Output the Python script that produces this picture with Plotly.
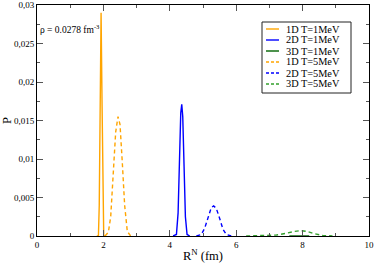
import plotly.graph_objects as go

# ---- data ----
x_1d_1 = [1.80, 1.85, 1.875, 1.90, 1.93, 1.96, 1.985, 2.01, 2.06]
y_1d_1 = [0.0, 0.0, 0.004, 0.017, 0.0290, 0.017, 0.004, 0.0, 0.0]

x_2d_1 = [4.10, 4.20, 4.25, 4.29, 4.33, 4.36, 4.39, 4.43, 4.47, 4.52, 4.60]
y_2d_1 = [0.0, 0.0002, 0.003, 0.010, 0.0160, 0.0171, 0.0155, 0.009, 0.0025, 0.0002, 0.0]

x_3d_1 = [7.60, 7.75, 7.85, 7.95, 8.05, 8.20]
y_3d_1 = [0.0, 0.00002, 0.00005, 0.00006, 0.00003, 0.0]

x_1d_5 = [2.05, 2.15, 2.22, 2.30, 2.37, 2.44, 2.50, 2.57, 2.64, 2.72, 2.82]
y_1d_5 = [0.0, 0.0005, 0.0025, 0.0085, 0.0135, 0.0155, 0.0145, 0.0095, 0.0040, 0.0006, 0.0]

x_2d_5 = [4.80, 4.95, 5.05, 5.15, 5.25, 5.32, 5.40, 5.50, 5.60, 5.70, 5.85]
y_2d_5 = [0.0, 0.0002, 0.0010, 0.0025, 0.0037, 0.0039, 0.0036, 0.0023, 0.0009, 0.0002, 0.0]

x_3d_5 = [6.30, 6.80, 7.20, 7.50, 7.75, 7.95, 8.15, 8.35, 8.60, 8.90]
y_3d_5 = [0.0, 0.00003, 0.00012, 0.00035, 0.00060, 0.00070, 0.00058, 0.00030, 0.00008, 0.0]

series_names = ["1D T=1MeV", "2D T=1MeV", "3D T=1MeV", "1D T=5MeV", "2D T=5MeV", "3D T=5MeV"]
series_x = [x_1d_1, x_2d_1, x_3d_1, x_1d_5, x_2d_5, x_3d_5]
series_y = [y_1d_1, y_2d_1, y_3d_1, y_1d_5, y_2d_5, y_3d_5]
series_colors = ["#FFA500", "#0000FF", "#006400", "#FFA500", "#0000FF", "#33A02C"]
series_dash = ["solid", "solid", "solid", "4px,3px", "4px,3px", "4px,3px"]

x_ticks = [0, 2, 4, 6, 8, 10]
y_ticks = [0, 0.005, 0.01, 0.015, 0.02, 0.025, 0.03]
y_tick_text = ["0", "0,005", "0,01", "0,015", "0,02", "0,025", "0,03"]

FONT = "Liberation Serif"

fig = go.Figure()
for name, xs, ys, col, dash in zip(series_names, series_x, series_y, series_colors, series_dash):
    fig.add_trace(go.Scatter(x=xs, y=ys, mode="lines", name=name, showlegend=False,
                             line=dict(color=col, width=1.4, dash=dash)))

axis_common = dict(showline=True, linecolor="black", linewidth=1, mirror="ticks",
                   ticks="inside", ticklen=6, tickwidth=1, tickcolor="#555",
                   showgrid=False, zeroline=False, automargin=False,
                   tickfont=dict(family=FONT, size=9, color="black"))

fig.update_xaxes(range=[0, 10], tickvals=x_ticks,
                 minor=dict(dtick=1, ticks="inside", ticklen=3, tickcolor="#555"),
                 title=dict(text="R<sup>N</sup> (fm)", font=dict(family=FONT, size=12.5, color="black"),
                            standoff=2),
                 **axis_common)
fig.update_yaxes(range=[0, 0.03], tickvals=y_ticks, ticktext=y_tick_text,
                 minor=dict(dtick=0.0025, tick0=0, ticks="inside", ticklen=3, tickcolor="#555"),
                 title=dict(text="P", font=dict(family=FONT, size=12.5, color="black"), standoff=4),
                 **axis_common)

fig.add_annotation(x=0.003, y=0.895, xref="paper", yref="paper", xanchor="left", yanchor="middle",
                   text="ρ = 0.0278 fm<sup>-3</sup>", showarrow=False,
                   font=dict(family=FONT, size=9.5, color="black"))

# ---- hand-built compact legend (paper coordinates) ----
PLOT_L, PLOT_R, PLOT_T, PLOT_B = 37, 369, 5, 236
def px_x(p):
    return (p - PLOT_L) / (PLOT_R - PLOT_L)
def px_y(p):
    return (PLOT_B - p) / (PLOT_B - PLOT_T)

fig.add_shape(type="rect", xref="paper", yref="paper",
              x0=px_x(262), x1=px_x(351), y0=px_y(93), y1=px_y(22),
              line=dict(color="#222", width=1), fillcolor="white", layer="above")
for i, (name, col, dash) in enumerate(zip(series_names, series_colors, series_dash)):
    yy = px_y(29 + 11 * i)
    fig.add_shape(type="line", xref="paper", yref="paper",
                  x0=px_x(266), x1=px_x(279), y0=yy, y1=yy,
                  line=dict(color=col, width=1.4, dash="solid" if dash == "solid" else "3px,2px"),
                  layer="above")
    fig.add_annotation(x=px_x(285), y=yy, xref="paper", yref="paper",
                       xanchor="left", yanchor="middle", text=name, showarrow=False,
                       font=dict(family=FONT, size=10.3, color="black"), borderpad=0)

fig.update_layout(
    width=374, height=263,
    margin=dict(l=PLOT_L, r=374 - PLOT_R, t=PLOT_T, b=263 - PLOT_B, autoexpand=False),
    paper_bgcolor="white", plot_bgcolor="white",
    showlegend=False,
)

fig.write_html("out.html", config={"displayModeBar": False, "staticPlot": True},
               post_script="document.body.style.margin='0';document.body.style.overflow='hidden';")
